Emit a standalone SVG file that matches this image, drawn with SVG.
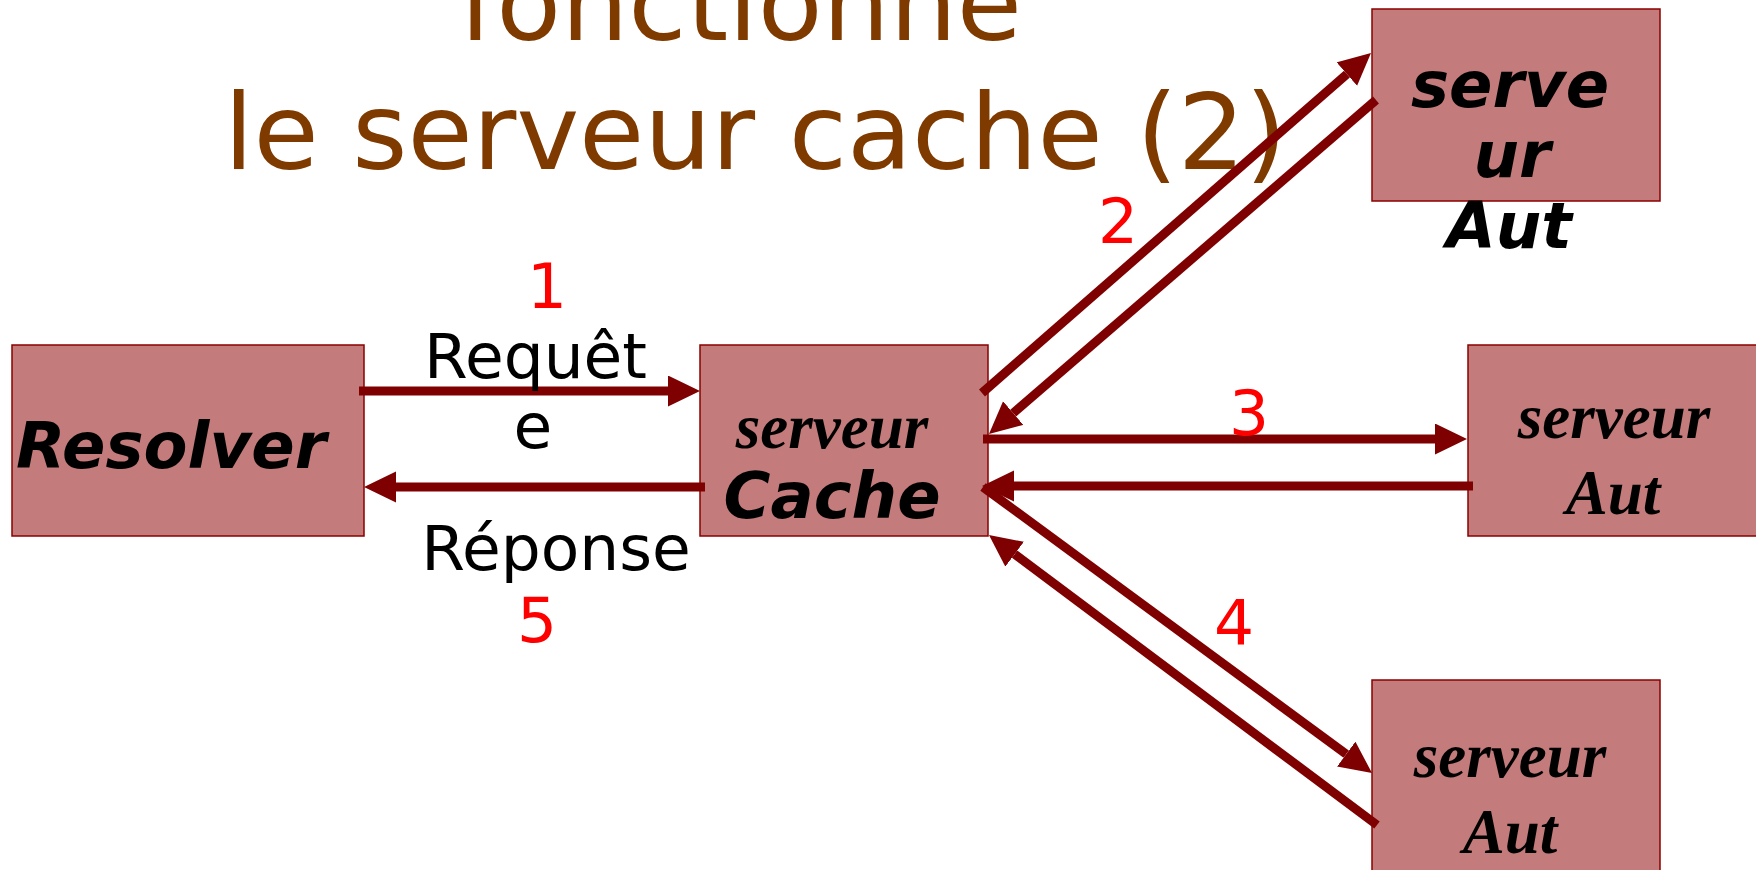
<svg xmlns="http://www.w3.org/2000/svg" width="1756" height="870" viewBox="0 0 1756 870">
<defs>
<style>
.box{fill:#c47b7b;stroke:#8b0000;stroke-width:1.5}
.title{font-family:"DejaVu Sans",sans-serif;font-size:106px;fill:#7f3a00}
.sans{font-family:"DejaVu Sans",sans-serif;font-size:63px;fill:#000}
.num{font-family:"DejaVu Sans",sans-serif;font-size:63px;fill:#ff0000;text-anchor:middle}
.bo{font-family:"DejaVu Sans",sans-serif;font-size:64px;font-weight:bold;font-style:oblique;fill:#000}
.ser{font-family:"Liberation Serif","Times New Roman",serif;font-size:63px;font-weight:bold;font-style:italic;fill:#000;text-anchor:middle}
.mid{text-anchor:middle}
.arr{stroke:#7f0000;stroke-width:9;fill:none;marker-end:url(#ah)}
</style>
<marker id="ah" markerUnits="userSpaceOnUse" markerWidth="34" markerHeight="32" refX="0" refY="15.5" orient="auto" viewBox="0 0 34 32">
<path d="M0,0 L32,15.5 L0,31 Z" fill="#7f0000"/>
</marker>
</defs>
<rect width="1756" height="870" fill="#fff"/>
<g id="title">
<text class="title" x="459" y="40">fonctionne</text>
<text class="title" x="224" y="169">le serveur cache (2)</text>
</g>
<g id="resolver">
<rect class="box" x="12" y="345" width="352" height="191"/>
<text class="bo" x="16" y="468">Resolver</text>
</g>
<g id="cache">
<rect class="box" x="700" y="345" width="288" height="191"/>
<text class="ser" x="832" y="448">serveur</text>
<text class="bo mid" x="832" y="518">Cache</text>
</g>
<g id="aut1">
<rect class="box" x="1372" y="9" width="288" height="192"/>
<text class="bo mid" x="1510" y="107">serve</text>
<text class="bo mid" x="1512" y="177">ur</text>
<text class="bo mid" x="1509" y="248">Aut</text>
</g>
<g id="aut2">
<rect class="box" x="1468" y="345" width="300" height="191"/>
<text class="ser" x="1614" y="438">serveur</text>
<text class="ser" x="1613" y="514">Aut</text>
</g>
<g id="aut3">
<rect class="box" x="1372" y="680" width="288" height="200"/>
<text class="ser" x="1510" y="777">serveur</text>
<text class="ser" x="1510" y="853">Aut</text>
</g>
<g id="connectors">
<line class="arr" x1="359" y1="391" x2="668" y2="391"/>
<line class="arr" x1="705" y1="487" x2="396" y2="487"/>
<line class="arr" x1="982" y1="393" x2="1346.9" y2="74.1"/>
<line class="arr" x1="1376" y1="100" x2="1013.2" y2="413.1"/>
<line class="arr" x1="983" y1="439" x2="1435" y2="439"/>
<line class="arr" x1="1473" y1="486" x2="1014" y2="486"/>
<line class="arr" x1="983" y1="487" x2="1346.2" y2="754.1"/>
<line class="arr" x1="1377" y1="825" x2="1014.6" y2="554.2"/>
</g>
<g id="labels">
<text class="sans mid" x="535.5" y="378">Requêt</text>
<text class="sans mid" x="533" y="448">e</text>
<text class="sans mid" x="556" y="570">Réponse</text>
<text class="num" x="547" y="308">1</text>
<text class="num" x="537" y="642">5</text>
<text class="num" x="1118" y="243">2</text>
<text class="num" x="1249" y="435">3</text>
<text class="num" x="1234" y="645">4</text>
</g>
</svg>
